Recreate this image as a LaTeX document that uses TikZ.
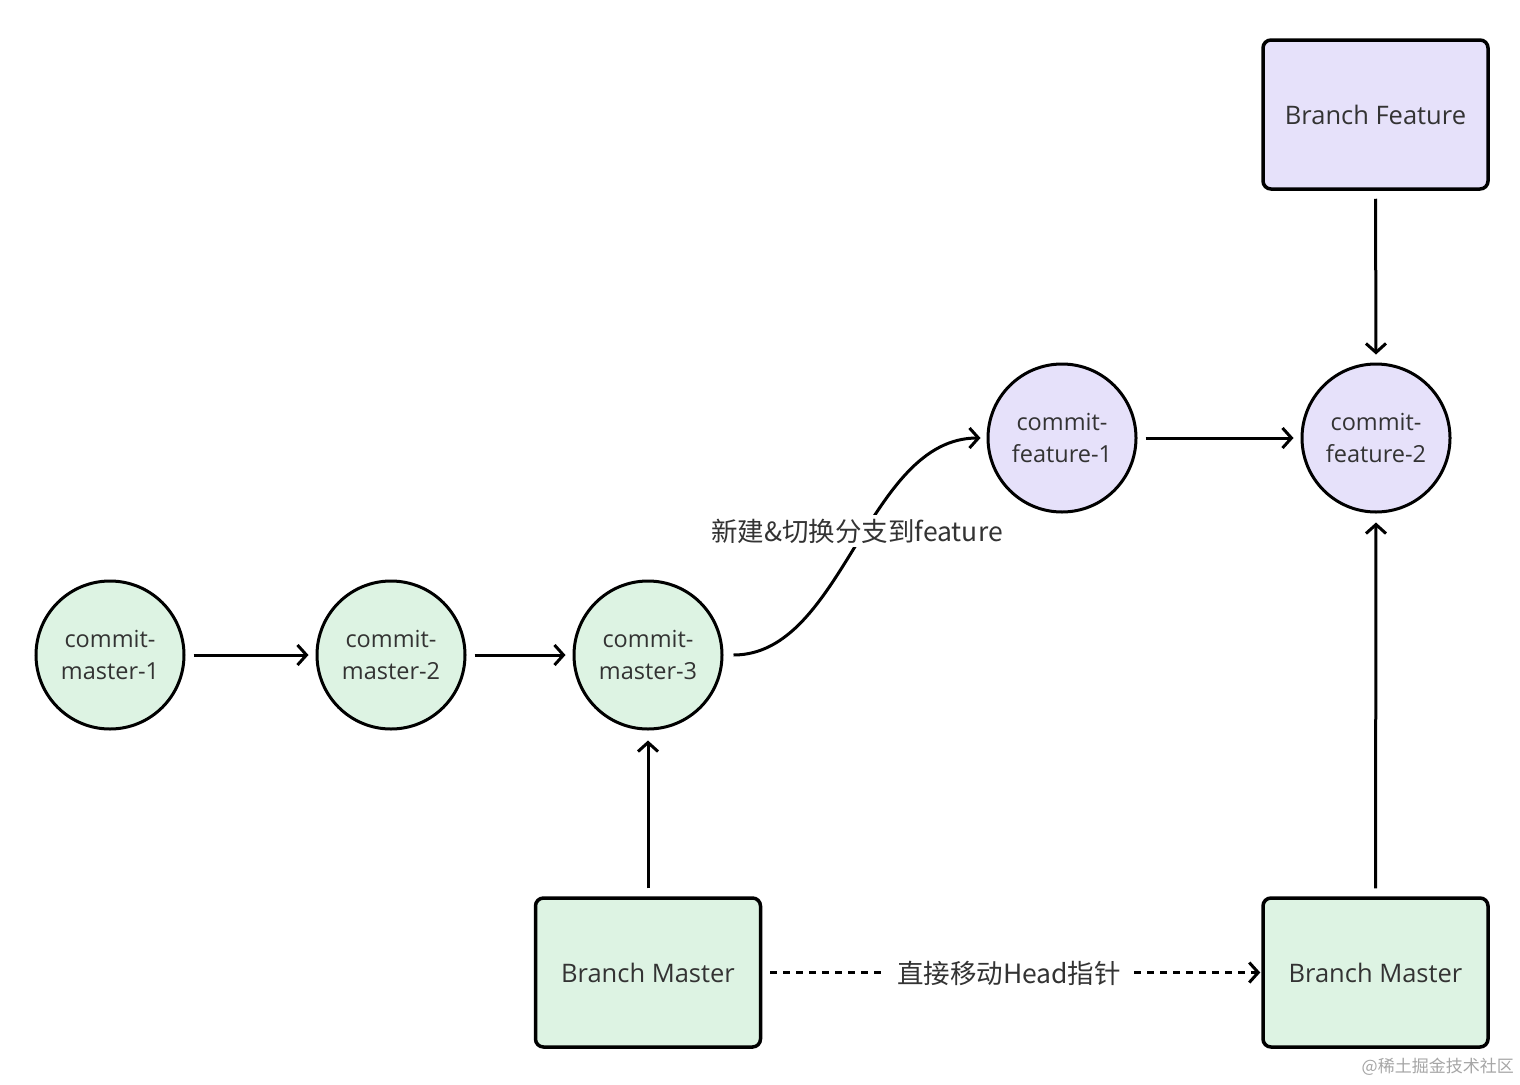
\documentclass[tikz,border=0pt]{standalone}
\usepackage{fontspec}
\setmainfont{Open Sans}
\newfontfamily\cjk{Noto Sans CJK SC}
\usetikzlibrary{arrows.meta}
\definecolor{greenfill}{HTML}{DDF3E3}
\definecolor{purplefill}{HTML}{E6E1FA}
\definecolor{txt}{HTML}{333333}
\begin{document}
\begin{tikzpicture}[x=1pt,y=-1pt,
  commitnode/.style={circle,draw=black,line width=3pt,minimum size=148pt,inner sep=0pt,
    align=center,text=txt,font=\fontsize{23.5}{32}\selectfont},
  branchbox/.style={draw=black,line width=3.5pt,rounded corners=8pt,minimum width=225pt,
    minimum height=149pt,text=txt,font=\fontsize{25.5}{30}\selectfont},
  conn/.style={line width=3pt,-{Straight Barb[length=9pt,width=20pt,line width=3pt]}},
  lbl/.style={fill=white,text=txt,font=\cjk\fontsize{26.5}{30}\selectfont,inner sep=4pt}
]
\useasboundingbox[fill=white] (0,0) rectangle (1520,1084);

\node[commitnode,fill=greenfill] (m1) at (110,655) {commit-\\master-1};
\node[commitnode,fill=greenfill] (m2) at (391,655) {commit-\\master-2};
\node[commitnode,fill=greenfill] (m3) at (648,655) {commit-\\master-3};
\node[commitnode,fill=purplefill] (f1) at (1062,438) {commit-\\feature-1};
\node[commitnode,fill=purplefill] (f2) at (1376,438) {commit-\\feature-2};

\node[branchbox,fill=purplefill] (bf) at (1375.5,114.5) {Branch Feature};
\node[branchbox,fill=greenfill] (bm1) at (648,972.5) {Branch Master};
\node[branchbox,fill=greenfill] (bm2) at (1375.5,972.5) {Branch Master};

\draw[conn,shorten <=8pt,shorten >=7pt] (m1.east) -- (m2.west);
\draw[conn,shorten <=8pt,shorten >=7pt] (m2.east) -- (m3.west);
\draw[conn,shorten <=8pt,shorten >=7pt] (f1.east) -- (f2.west);
\draw[conn,shorten <=8pt,shorten >=8pt] (bf.south) -- (f2.north);
\draw[conn,shorten <=8pt,shorten >=10pt] (bm1.north) -- (m3.south);
\draw[conn,shorten <=8pt,shorten >=9pt] (bm2.north) -- (f2.south);
\draw[conn,shorten <=10pt,shorten >=6pt] (m3.east) to[out=0,in=180,looseness=0.9] (f1.west);
\node[lbl] (l1) at (857,531) {新建\&切换分支到feature};

\draw[line width=3pt,dash pattern=on 7pt off 6pt,shorten <=8pt,shorten >=1pt,
  -{Straight Barb[length=9pt,width=20pt,line width=3pt]}] (bm1.east) -- (bm2.west);
\node[lbl,inner xsep=12pt] (l2) at (1009,973) {直接移动Head指针};

\node[text=black!35,font=\cjk\fontsize{17}{20}\selectfont,anchor=east,inner sep=0pt] (wm) at (1514,1067) {@稀土掘金技术社区};
\end{tikzpicture}
\end{document}
